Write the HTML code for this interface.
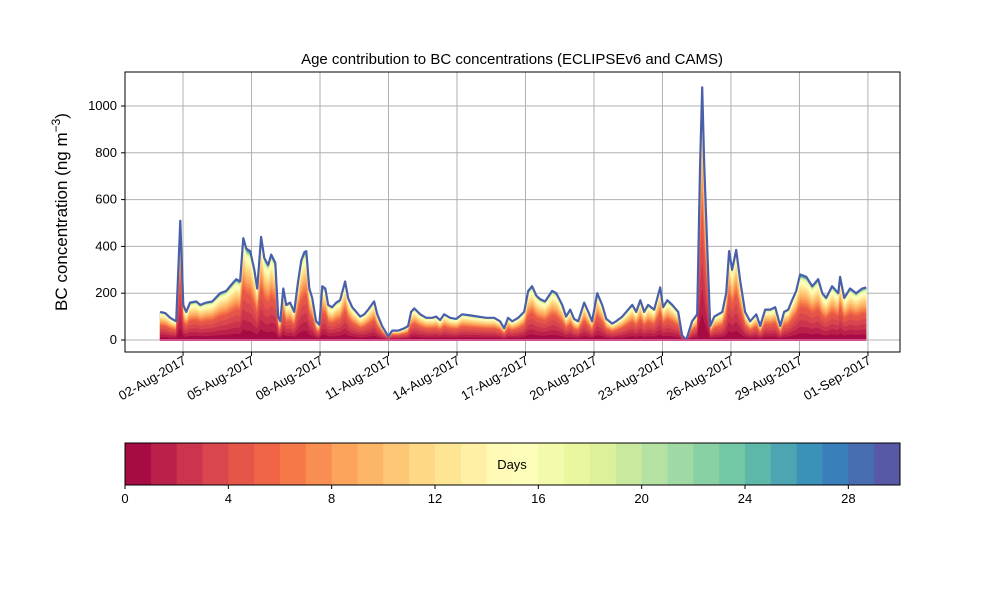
<!DOCTYPE html>
<html><head><meta charset="utf-8"><style>
body{margin:0;background:#fff;}
svg text{font-family:"Liberation Sans",sans-serif;}
</style></head><body>
<svg id="chart" width="1000" height="600" viewBox="0 0 1000 600" xmlns="http://www.w3.org/2000/svg">
<rect width="1000" height="600" fill="#fff"/>
<g id="grid"></g>
<g id="areas"></g>
<g id="axes"></g>
<g id="cbar"></g>
<text x="512" y="64" font-size="15" text-anchor="middle">Age contribution to BC concentrations (ECLIPSEv6 and CAMS)</text>
<text transform="translate(67,212) rotate(-90)" font-size="17" text-anchor="middle">BC concentration (ng m<tspan font-size="12" dy="-7">−3</tspan><tspan dy="7">)</tspan></text>
</svg>
<script>
// times: days since 01-Aug-2017 00:00
const times=[0,.22,.44,.70,.88,1.01,1.14,1.31,1.58,1.75,2.01,2.28,2.63,2.89,3.15,3.33,3.50,3.64,3.77,3.94,4.12,4.25,4.42,4.56,4.73,4.86,5.04,5.17,5.26,5.39,5.52,5.69,5.87,6.04,6.18,6.31,6.40,6.53,6.66,6.83,6.97,7.10,7.23,7.36,7.53,7.71,7.88,8.10,8.23,8.41,8.59,8.76,8.94,9.11,9.37,9.51,9.72,9.99,10.16,10.42,10.69,10.86,10.99,11.13,11.39,11.65,11.91,12.09,12.26,12.44,12.70,12.97,13.23,13.58,13.93,14.28,14.63,14.89,15.07,15.24,15.42,15.68,15.94,16.12,16.29,16.47,16.64,16.86,17.17,17.35,17.61,17.78,17.96,18.13,18.31,18.57,18.75,18.92,19.14,19.36,19.54,19.80,19.97,20.24,20.50,20.68,20.85,21.03,21.20,21.37,21.64,21.90,22.03,22.21,22.43,22.69,22.86,23.04,23.30,23.52,23.65,23.74,23.83,23.96,24.09,24.27,24.44,24.62,24.79,24.92,25.05,25.23,25.41,25.62,25.84,26.11,26.28,26.50,26.72,26.94,27.16,27.33,27.51,27.68,27.86,28.03,28.30,28.56,28.82,29.00,29.17,29.43,29.70,29.78,29.96,30.22,30.48,30.75,30.92];
const totals=[120,115,95,80,510,150,120,160,165,150,160,165,200,210,240,260,250,435,390,380,300,220,440,350,320,365,330,100,80,220,150,160,120,250,340,375,380,220,180,80,65,230,220,150,140,160,170,250,180,140,120,100,110,130,165,110,60,15,40,40,50,60,120,135,110,95,95,100,85,110,95,90,110,105,100,95,95,80,50,95,80,95,120,210,230,190,175,165,210,200,150,100,130,90,80,160,120,80,200,150,90,70,80,100,130,150,120,170,120,150,130,225,140,170,150,120,20,0,80,110,750,1080,750,400,60,100,110,120,200,380,300,385,250,120,80,110,60,130,130,140,60,120,130,170,210,280,270,230,260,200,180,230,200,270,180,220,200,220,225];
// share of each age bin (days 0..29)
const ageShares=[.10,.10,.10,.10,.10,.04,.04,.04,.04,.04,.04,.04,.03,.03,.03,.03,.03,.0054,.0054,.0054,.0054,.0054,.0054,.0054,.0054,.0054,.0054,.0054,.0054,.0054];
const yTicks=[0,200,400,600,800,1000];
const xTickDays=[1,4,7,10,13,16,19,22,25,28,31];
const xTickLabels=['02-Aug-2017','05-Aug-2017','08-Aug-2017','11-Aug-2017','14-Aug-2017','17-Aug-2017','20-Aug-2017','23-Aug-2017','26-Aug-2017','29-Aug-2017','01-Sep-2017'];
const cbTicks=[0,4,8,12,16,20,24,28];

(function(){
const NS='http://www.w3.org/2000/svg';
const L=125,R=900,T=72,B=352;
const X=t=>160.2+t*22.83;
const Y=v=>340-v*0.234;
const N=Math.min(times.length,totals.length);
function mk(tag,attrs,parent){const e=document.createElementNS(NS,tag);for(const k in attrs)e.setAttribute(k,attrs[k]);parent.appendChild(e);return e;}
const anchors=['#9e0142','#d53e4f','#f46d43','#fdae61','#fee08b','#ffffbf','#e6f598','#abdda4','#66c2a5','#3288bd','#5e4fa2'].map(h=>[1,3,5].map(i=>parseInt(h.substr(i,2),16)));
function spectral(f){const p=f*10,i=Math.min(9,Math.floor(p)),r=p-i;const c=anchors[i].map((v,k)=>Math.round(v+(anchors[i+1][k]-v)*r));return 'rgb('+c.join(',')+')';}
const grid=document.getElementById('grid'),areas=document.getElementById('areas'),axes=document.getElementById('axes'),cbar=document.getElementById('cbar');
yTicks.forEach(v=>{const l=mk('line',{x1:L,x2:R,y1:Y(v),y2:Y(v),stroke:'#b0b0b0','stroke-width':1},grid);

});
xTickDays.forEach(d=>{const l=mk('line',{x1:X(d),x2:X(d),y1:T,y2:B,stroke:'#b0b0b0','stroke-width':1},grid);

});
const sum=ageShares.reduce((a,b)=>a+b,0);
const cum=ageShares.map((s,i)=>ageShares.slice(0,i+1).reduce((a,b)=>a+b,0)/sum);
for(let i=29;i>=0;i--){
  let d='M'+X(times[0])+','+Y(0);
  for(let j=0;j<N;j++){d+=' L'+X(times[j]).toFixed(1)+','+Y(totals[j]*cum[i]).toFixed(1);}
  d+=' L'+X(times[N-1])+','+Y(0)+' Z';
  const col=spectral((i+0.5)/30);
  const p=mk('path',{d:d,fill:col,stroke:col,'stroke-width':0.5},areas);
  
  
}
let topPath='';
for(let j=0;j<N;j++){topPath+=(j?' L':'M')+X(times[j]).toFixed(1)+','+Y(totals[j]).toFixed(1);}
const tl=mk('path',{d:topPath,fill:'none',stroke:'#4a5fab','stroke-width':2.2,'stroke-linejoin':'round'},areas);


const bl=mk('line',{x1:X(times[0]),x2:X(times[N-1]),y1:Y(0),y2:Y(0),stroke:'#d4508a','stroke-width':2},areas);


const fr=mk('rect',{x:L,y:T,width:R-L,height:B-T,fill:'none',stroke:'#000','stroke-width':1},axes);


yTicks.forEach(v=>{mk('line',{x1:L-4,x2:L,y1:Y(v),y2:Y(v),stroke:'#000'},axes);
const t=mk('text',{x:L-8,y:Y(v)+4,'font-size':13,'text-anchor':'end'},axes);t.textContent=v;

});
xTickDays.forEach((d,i)=>{mk('line',{x1:X(d),x2:X(d),y1:B,y2:B+4,stroke:'#000'},axes);
const t=mk('text',{transform:'translate('+(X(d)+4)+','+(B+11)+') rotate(-30)','font-size':13,'text-anchor':'end'},axes);t.textContent=xTickLabels[i];

});
const cw=(R-L)/30;
for(let i=0;i<30;i++){const r=mk('rect',{x:L+i*cw,y:443,width:cw+0.5,height:42,fill:spectral((i+0.5)/30)},cbar);

}
const cf=mk('rect',{x:L,y:443,width:R-L,height:42,fill:'none',stroke:'#000'},cbar);


const dl=mk('text',{x:512,y:469,'font-size':13,'text-anchor':'middle'},cbar);dl.textContent='Days';


cbTicks.forEach(v=>{const x=L+v*cw;mk('line',{x1:x,x2:x,y1:485,y2:489,stroke:'#000'},cbar);
const t=mk('text',{x:x,y:503,'font-size':13,'text-anchor':'middle'},cbar);t.textContent=v;

});
})();
</script>
</body></html>
